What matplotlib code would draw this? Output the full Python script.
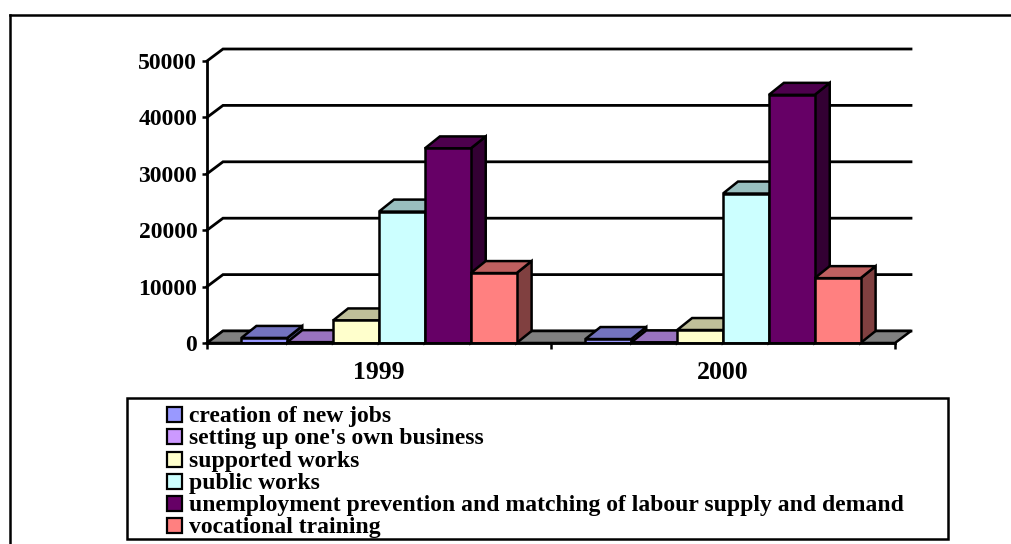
import numpy as np
import matplotlib.pyplot as plt
from matplotlib.patches import Polygon, Rectangle
from matplotlib.lines import Line2D

plt.rcParams['font.family'] = ['Liberation Serif', 'DejaVu Serif']
plt.rcParams['font.weight'] = 'bold'

# data
years = ['1999', '2000']
series_names = ['creation of new jobs',
                "setting up one's own business",
                'supported works',
                'public works',
                'unemployment prevention and matching of labour supply and demand',
                'vocational training']
new_jobs = [900, 700]
own_business = [150, 100]
supported_works = [4000, 2300]
public_works = [23300, 26500]
unemployment_prev = [34500, 44000]
vocational = [12400, 11500]
series_values = [new_jobs, own_business, supported_works, public_works,
                 unemployment_prev, vocational]
colors = ['#9999FF', '#CC99FF', '#FFFFCC', '#CCFFFF', '#660066', '#FF8080']
y_ticks = [0, 10000, 20000, 30000, 40000, 50000]

W, H = 1012, 544
fig = plt.figure(figsize=(W / 100, H / 100), dpi=100)

# axes placed so that x 0..2 -> px 207..895 and y 0..50000 -> px 343..61
ax = fig.add_axes([207 / W, 1 - 343 / H, 688 / W, 282 / H])
ax.set_xlim(0, 2)
ax.set_ylim(0, 50000)
ax.patch.set_visible(False)

px_x = 2 / 688.0
px_y = 50000 / 282.0
wall_dx, wall_dy = 16 * px_x, 12 * px_y
bar_dx, bar_dy = 15 * px_x, 12 * px_y
LW = 1.8


def shade(c, f):
    r, g, b = [int(c[i:i + 2], 16) / 255 for i in (1, 3, 5)]
    return (r * f, g * f, b * f)


# floor
ax.add_patch(Polygon([(0, 0), (2, 0), (2 + wall_dx, wall_dy), (wall_dx, wall_dy)],
                     closed=True, facecolor='#808080', edgecolor='black',
                     lw=LW, zorder=1, clip_on=False))
# gridlines on side wall and back wall
for v in y_ticks:
    ax.plot([0, wall_dx, 2 + wall_dx], [v, v + wall_dy, v + wall_dy],
            color='black', lw=2.0, zorder=0.5, clip_on=False, solid_joinstyle='miter')

# bars (front faces through ax.bar, top/side faces as polygons)
n = len(series_names)
bw = 0.8 / n
z = 2
for j in range(len(years)):
    for i in range(n):
        x0 = j + 0.1 + i * bw
        v = series_values[i][j]
        ax.bar(x0, v, width=bw, align='edge', color=colors[i], edgecolor='black',
               lw=LW, zorder=z + 0.2)
        top = [(x0, v), (x0 + bw, v), (x0 + bw + bar_dx, v + bar_dy), (x0 + bar_dx, v + bar_dy)]
        side = [(x0 + bw, 0), (x0 + bw + bar_dx, bar_dy), (x0 + bw + bar_dx, v + bar_dy), (x0 + bw, v)]
        ax.add_patch(Polygon(side, closed=True, facecolor=shade(colors[i], 0.5),
                             edgecolor='black', lw=LW, zorder=z, clip_on=False))
        ax.add_patch(Polygon(top, closed=True, facecolor=shade(colors[i], 0.75),
                             edgecolor='black', lw=LW, zorder=z + 0.1, clip_on=False))
        z += 1

# axes styling
for s in ['top', 'right']:
    ax.spines[s].set_visible(False)
for s in ['left', 'bottom']:
    ax.spines[s].set_linewidth(2.0)
    ax.spines[s].set_zorder(100)
ax.set_yticks(y_ticks)
ax.set_yticklabels([str(v) for v in y_ticks])
ax.tick_params(axis='y', length=3.5, width=1.8, pad=3.5, labelsize=17)
ax.set_xticks([0, 1, 2])
ax.set_xticklabels([])
ax.tick_params(axis='x', length=4, width=1.8)
ax.set_xticks([0.5, 1.5], minor=True)
ax.set_xticklabels(years, minor=True)
ax.tick_params(axis='x', which='minor', length=0, pad=13, labelsize=18.5)

# outer chart frame
fig.add_artist(Line2D([10 / W, 1.0], [1 - 15 / H] * 2, color='black', lw=1.8))
fig.add_artist(Line2D([10 / W] * 2, [1 - 15 / H, 0], color='black', lw=1.8))

# legend box
fig.add_artist(Rectangle((127 / W, 1 - 539 / H), (948 - 127) / W, (539 - 398) / H,
                         facecolor='none', edgecolor='black', lw=1.8))
for i, name in enumerate(series_names):
    yc = 414.7 + i * 22.2
    fig.add_artist(Rectangle((167 / W, 1 - (yc + 7.5) / H), 15 / W, 15 / H,
                             facecolor=colors[i], edgecolor='black', lw=1.6))
    fig.text(189 / W, 1 - (yc + 7.5) / H, name, fontsize=17, fontweight='bold',
             ha='left', va='baseline')

fig.savefig('out.png', dpi=100)
